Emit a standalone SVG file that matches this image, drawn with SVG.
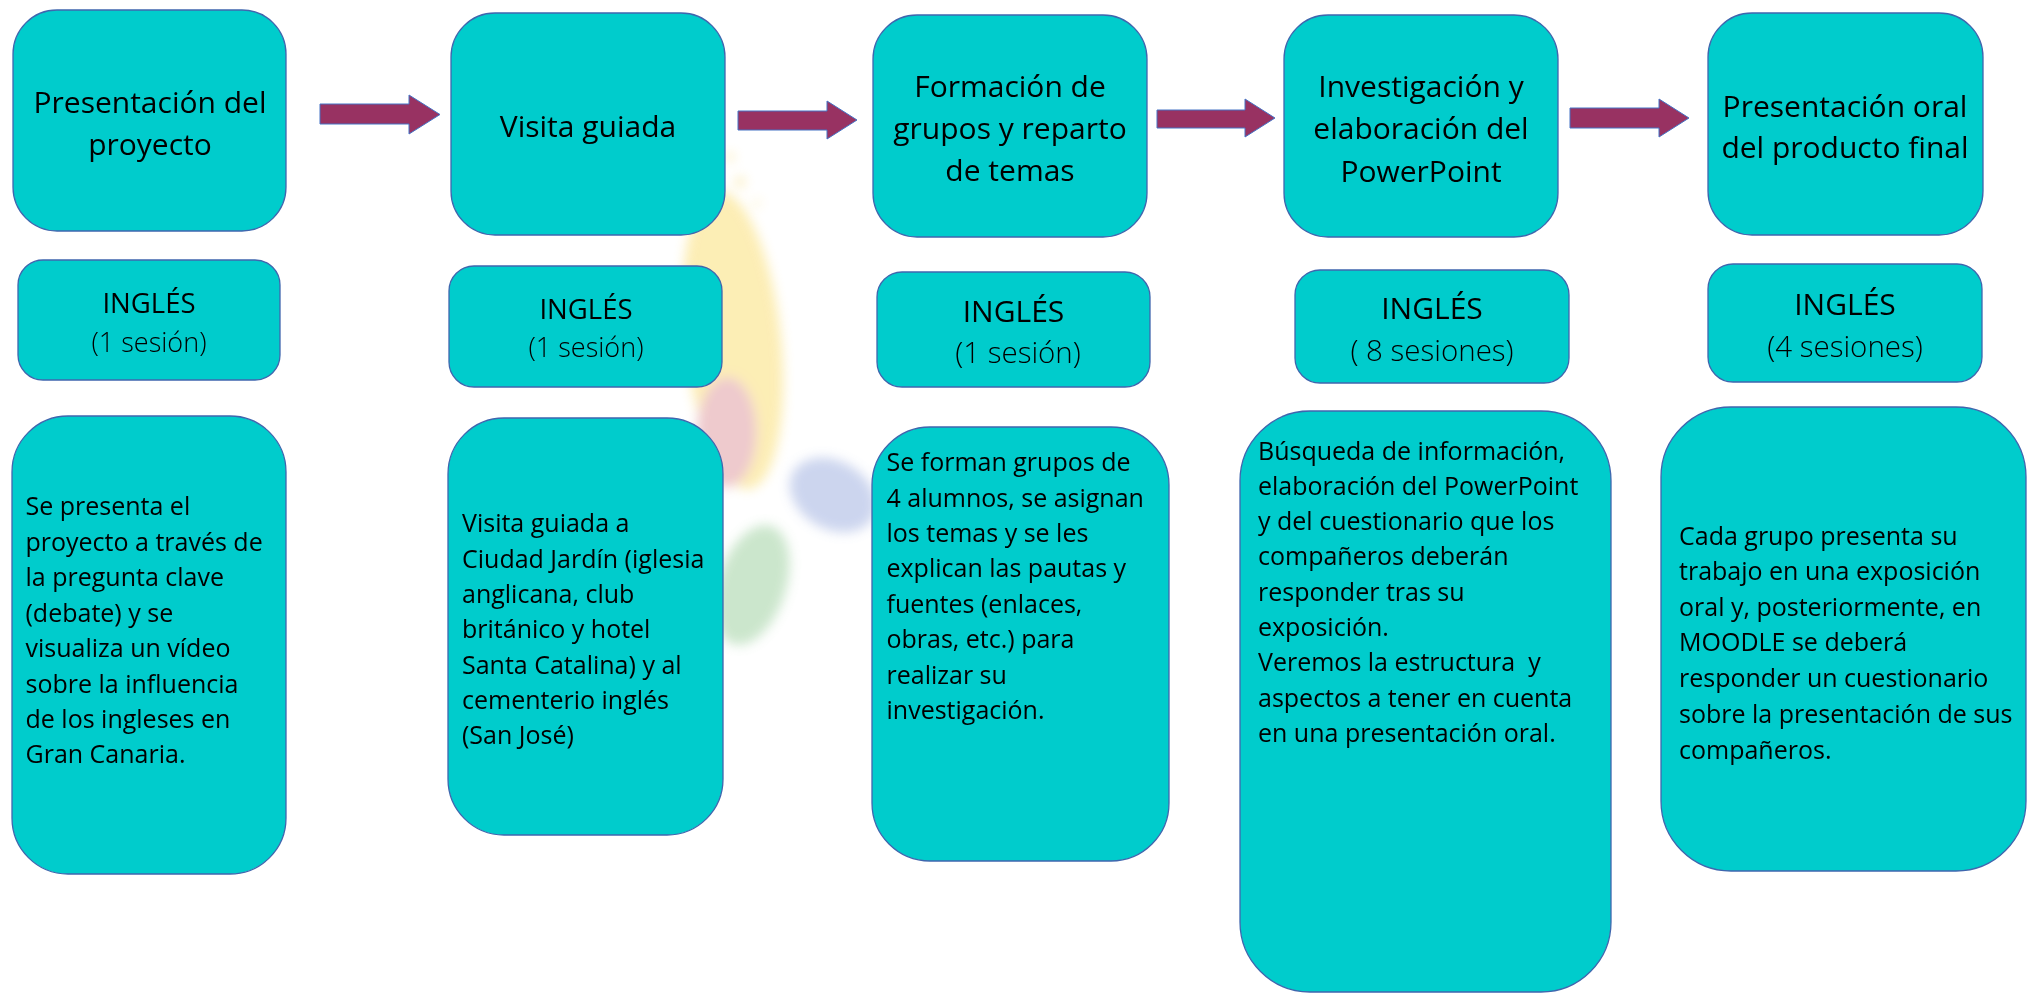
<svg xmlns="http://www.w3.org/2000/svg" width="2028" height="995" viewBox="0 0 2028 995">
  <defs>
    <style>
      .box { fill: #00CCCC; stroke: #3F66AE; stroke-width: 1.3; }
      .title { font-family: "Open Sans", "Noto Sans", "Liberation Sans", sans-serif; font-size: 30px; fill: #000; text-anchor: middle; }
      .ing { font-family: "Open Sans", "Noto Sans", "Liberation Sans", sans-serif; fill: #000; text-anchor: middle; }
      .ses { font-family: "Open Sans", "Noto Sans", "Liberation Sans", sans-serif; fill: #000; text-anchor: middle; font-weight: 300; }
      .body { font-family: "Open Sans", "Noto Sans", "Liberation Sans", sans-serif; font-size: 25px; fill: #000; }
      .arrow { fill: #983262; stroke: #4472C4; stroke-width: 1; }
    </style>
    <filter id="blur" x="-50%" y="-50%" width="200%" height="200%">
      <feGaussianBlur stdDeviation="6"/>
    </filter>
  </defs>
  <rect x="0" y="0" width="2028" height="995" fill="#FFFFFF"/>

  <g id="watermark" filter="url(#blur)" opacity="0.45">
    <circle cx="730" cy="157" r="4" fill="#F6D45A"/>
    <circle cx="740" cy="182" r="5" fill="#F6D45A"/>
    <circle cx="757" cy="203" r="3" fill="#F6D45A"/>
    <ellipse cx="733" cy="340" rx="48" ry="150" transform="rotate(-6 733 340)" fill="#F9D85A"/>
    <ellipse cx="727" cy="432" rx="30" ry="55" fill="#D98890"/>
    <ellipse cx="833" cy="495" rx="46" ry="34" transform="rotate(30 833 495)" fill="#8EA2DA"/>
    <ellipse cx="752" cy="585" rx="34" ry="62" transform="rotate(18 752 585)" fill="#8CC88E"/>
  </g>

  <g id="connectors">
    <polygon class="arrow" points="320,104 409,104 409,95 440,114.5 409,134 409,124 320,124"/>
    <polygon class="arrow" points="738,111 827,111 827,101 857,120 827,139 827,130 738,130"/>
    <polygon class="arrow" points="1157,110 1245,110 1245,99 1275,118 1245,137 1245,128 1157,128"/>
    <polygon class="arrow" points="1570,108 1659,108 1659,99 1689,118 1659,137 1659,128 1570,128"/>
  </g>

  <!-- Top row -->
  <g id="step1">
    <rect class="box" x="13" y="10" width="273" height="221" rx="44" ry="44"/>
    <text class="title" x="150" y="113">Presentación del</text>
    <text class="title" x="150" y="155">proyecto</text>
  </g>
  <g id="step2">
    <rect class="box" x="451" y="13" width="274" height="222" rx="44" ry="44"/>
    <text class="title" x="588" y="137">Visita guiada</text>
  </g>
  <g id="step3">
    <rect class="box" x="873" y="15" width="274" height="222" rx="44" ry="44"/>
    <text class="title" x="1010" y="97">Formación de</text>
    <text class="title" x="1010" y="139">grupos y reparto</text>
    <text class="title" x="1010" y="181">de temas</text>
  </g>
  <g id="step4">
    <rect class="box" x="1284" y="15" width="274" height="222" rx="44" ry="44"/>
    <text class="title" x="1421" y="97">Investigación y</text>
    <text class="title" x="1421" y="139">elaboración del</text>
    <text class="title" x="1421" y="182">PowerPoint</text>
  </g>
  <g id="step5">
    <rect class="box" x="1708" y="13" width="275" height="222" rx="44" ry="44"/>
    <text class="title" x="1845" y="117">Presentación oral</text>
    <text class="title" x="1845" y="158">del producto final</text>
  </g>

  <!-- Second row -->
  <g id="sessions1">
    <rect class="box" x="18" y="260" width="262" height="120" rx="25" ry="25"/>
    <text class="ing" x="149" y="313" font-size="27.5">INGLÉS</text>
    <text class="ses" x="149" y="352" font-size="27">(1 sesión)</text>
  </g>
  <g id="sessions2">
    <rect class="box" x="449" y="266" width="273" height="121" rx="25" ry="25"/>
    <text class="ing" x="586" y="319" font-size="27.5">INGLÉS</text>
    <text class="ses" x="586" y="357" font-size="27">(1 sesión)</text>
  </g>
  <g id="sessions3">
    <rect class="box" x="877" y="272" width="273" height="115" rx="25" ry="25"/>
    <text class="ing" x="1013.5" y="322" font-size="30">INGLÉS</text>
    <text class="ses" x="1018" y="363" font-size="29.5">(1 sesión)</text>
  </g>
  <g id="sessions4">
    <rect class="box" x="1295" y="270" width="274" height="113" rx="25" ry="25"/>
    <text class="ing" x="1432" y="319" font-size="30">INGLÉS</text>
    <text class="ses" x="1432" y="361" font-size="29.5">( 8 sesiones)</text>
  </g>
  <g id="sessions5">
    <rect class="box" x="1708" y="264" width="274" height="118" rx="25" ry="25"/>
    <text class="ing" x="1845" y="315" font-size="30">INGLÉS</text>
    <text class="ses" x="1845" y="357" font-size="29.5">(4 sesiones)</text>
  </g>

  <!-- Third row -->
  <g id="desc1">
    <rect class="box" x="12" y="416" width="274" height="458" rx="56" ry="56"/>
    <text class="body">
      <tspan x="25.5" y="515">Se presenta el</tspan>
      <tspan x="25.5" y="550.5">proyecto a través de</tspan>
      <tspan x="25.5" y="586">la pregunta clave</tspan>
      <tspan x="25.5" y="621.5">(debate) y se</tspan>
      <tspan x="25.5" y="657">visualiza un vídeo</tspan>
      <tspan x="25.5" y="692.5">sobre la influencia</tspan>
      <tspan x="25.5" y="728">de los ingleses en</tspan>
      <tspan x="25.5" y="763">Gran Canaria.</tspan>
    </text>
  </g>
  <g id="desc2">
    <rect class="box" x="448" y="418" width="275" height="417" rx="56" ry="56"/>
    <text class="body">
      <tspan x="462" y="532">Visita guiada a</tspan>
      <tspan x="462" y="567.5">Ciudad Jardín (iglesia</tspan>
      <tspan x="462" y="603">anglicana, club</tspan>
      <tspan x="462" y="638">británico y hotel</tspan>
      <tspan x="462" y="673.5">Santa Catalina) y al</tspan>
      <tspan x="462" y="709">cementerio inglés</tspan>
      <tspan x="462" y="744">(San José)</tspan>
    </text>
  </g>
  <g id="desc3">
    <rect class="box" x="872" y="427" width="297" height="434" rx="58" ry="58"/>
    <text class="body">
      <tspan x="886.5" y="471">Se forman grupos de</tspan>
      <tspan x="886.5" y="506.5">4 alumnos, se asignan</tspan>
      <tspan x="886.5" y="542">los temas y se les</tspan>
      <tspan x="886.5" y="577">explican las pautas y</tspan>
      <tspan x="886.5" y="612.5">fuentes (enlaces,</tspan>
      <tspan x="886.5" y="648">obras, etc.) para</tspan>
      <tspan x="886.5" y="683.5">realizar su</tspan>
      <tspan x="886.5" y="719">investigación.</tspan>
    </text>
  </g>
  <g id="desc4">
    <rect class="box" x="1240" y="411" width="371" height="581" rx="70" ry="70"/>
    <text class="body">
      <tspan x="1258" y="459.5">Búsqueda de información,</tspan>
      <tspan x="1258" y="494.5">elaboración del PowerPoint</tspan>
      <tspan x="1258" y="529.5">y del cuestionario que los</tspan>
      <tspan x="1258" y="565">compañeros deberán</tspan>
      <tspan x="1258" y="600.5">responder tras su</tspan>
      <tspan x="1258" y="635.5">exposición.</tspan>
      <tspan x="1258" y="671" xml:space="preserve">Veremos la estructura  y</tspan>
      <tspan x="1258" y="706.5">aspectos a tener en cuenta</tspan>
      <tspan x="1258" y="742">en una presentación oral.</tspan>
    </text>
  </g>
  <g id="desc5">
    <rect class="box" x="1661" y="407" width="365" height="464" rx="70" ry="70"/>
    <text class="body">
      <tspan x="1679" y="544.5">Cada grupo presenta su</tspan>
      <tspan x="1679" y="580">trabajo en una exposición</tspan>
      <tspan x="1679" y="616">oral y, posteriormente, en</tspan>
      <tspan x="1679" y="651">MOODLE se deberá</tspan>
      <tspan x="1679" y="687">responder un cuestionario</tspan>
      <tspan x="1679" y="723">sobre la presentación de sus</tspan>
      <tspan x="1679" y="759">compañeros.</tspan>
    </text>
  </g>
</svg>
